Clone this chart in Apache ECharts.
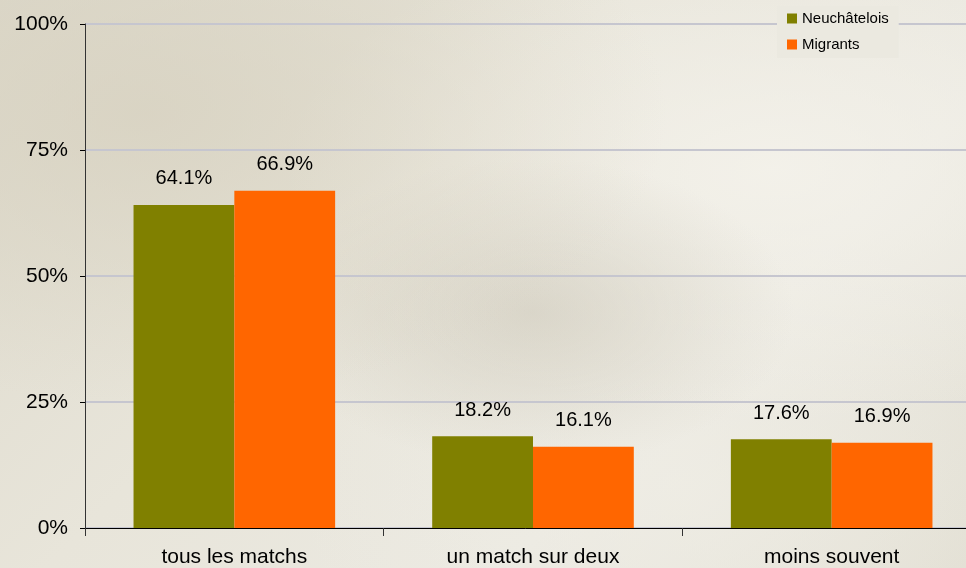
<!DOCTYPE html>
<html>
<head>
<meta charset="utf-8">
<script src="https://cdn.jsdelivr.net/npm/echarts@6/dist/echarts.min.js"></script>
<style>
  html, body { margin: 0; padding: 0; }
  #chart {
    width: 966px;
    height: 568px;
    background:
      radial-gradient(ellipse at 15% 20%, rgba(214,208,190,0.7), rgba(214,208,190,0) 45%),
      radial-gradient(ellipse at 55% 55%, rgba(205,200,185,0.6), rgba(205,200,185,0) 35%),
      radial-gradient(ellipse at 80% 30%, rgba(245,243,236,0.8), rgba(245,243,236,0) 45%),
      radial-gradient(ellipse at 70% 85%, rgba(240,238,230,0.7), rgba(240,238,230,0) 40%),
      linear-gradient(135deg, #ddd9cb 0%, #e8e5da 40%, #ebe9e1 70%, #e2dfd3 100%);
  }
</style>
</head>
<body>
<div id="chart"></div>
<script>
  var categories = ['tous les matchs', 'un match sur deux', 'moins souvent'];
  var neuchatelois = [64.1, 18.2, 17.6];
  var migrants = [66.9, 16.1, 16.9];
  var yTicks = [0, 25, 50, 75, 100];

  var myChart = echarts.init(document.getElementById('chart'));

  var labelStyle = {
    show: true,
    position: 'top',
    distance: 16,
    color: '#000',
    fontSize: 20,
    fontFamily: 'Liberation Sans, Arial, sans-serif',
    formatter: function (p) { return p.value.toFixed(1) + '%'; }
  };

  myChart.setOption({
    textStyle: { fontFamily: 'Liberation Sans, Arial, sans-serif' },
    animation: false,
    legend: {
      orient: 'vertical',
      left: 777,
      top: 6,
      itemWidth: 10,
      itemHeight: 10,
      itemGap: 11,
      padding: [5, 10, 6, 10],
      backgroundColor: '#ebe9e0',
      icon: 'rect',
      textStyle: { color: '#000', fontSize: 15 },
      data: ['Neuchâtelois', 'Migrants']
    },
    grid: {
      left: 85,
      top: 24,
      bottom: 40,
      right: -15,
      outerBoundsMode: 'none',
      containLabel: false
    },
    xAxis: {
      type: 'category',
      data: categories,
      axisLine: { lineStyle: { color: '#000', width: 1 } },
      axisTick: { show: true, length: 8, inside: false, lineStyle: { color: '#333' } },
      axisLabel: { color: '#000', fontSize: 21, margin: 19 }
    },
    yAxis: {
      type: 'value',
      min: 0,
      max: 100,
      interval: 25,
      axisLine: { show: true, lineStyle: { color: '#333', width: 1 } },
      axisTick: { show: true, length: 5, lineStyle: { color: '#000' } },
      axisLabel: {
        color: '#000',
        fontSize: 21,
        margin: 17,
        formatter: function (v) { return yTicks.indexOf(v) >= 0 ? v + '%' : ''; }
      },
      splitLine: { show: true, lineStyle: { color: '#c6c6cf', width: 2 } }
    },
    series: [
      {
        name: 'Neuchâtelois',
        type: 'bar',
        data: neuchatelois,
        barGap: '0%',
        barCategoryGap: '32.5%',
        itemStyle: { color: '#808000' },
        label: labelStyle
      },
      {
        name: 'Migrants',
        type: 'bar',
        data: migrants,
        itemStyle: { color: '#ff6600' },
        label: labelStyle
      }
    ]
  });
</script>
</body>
</html>
